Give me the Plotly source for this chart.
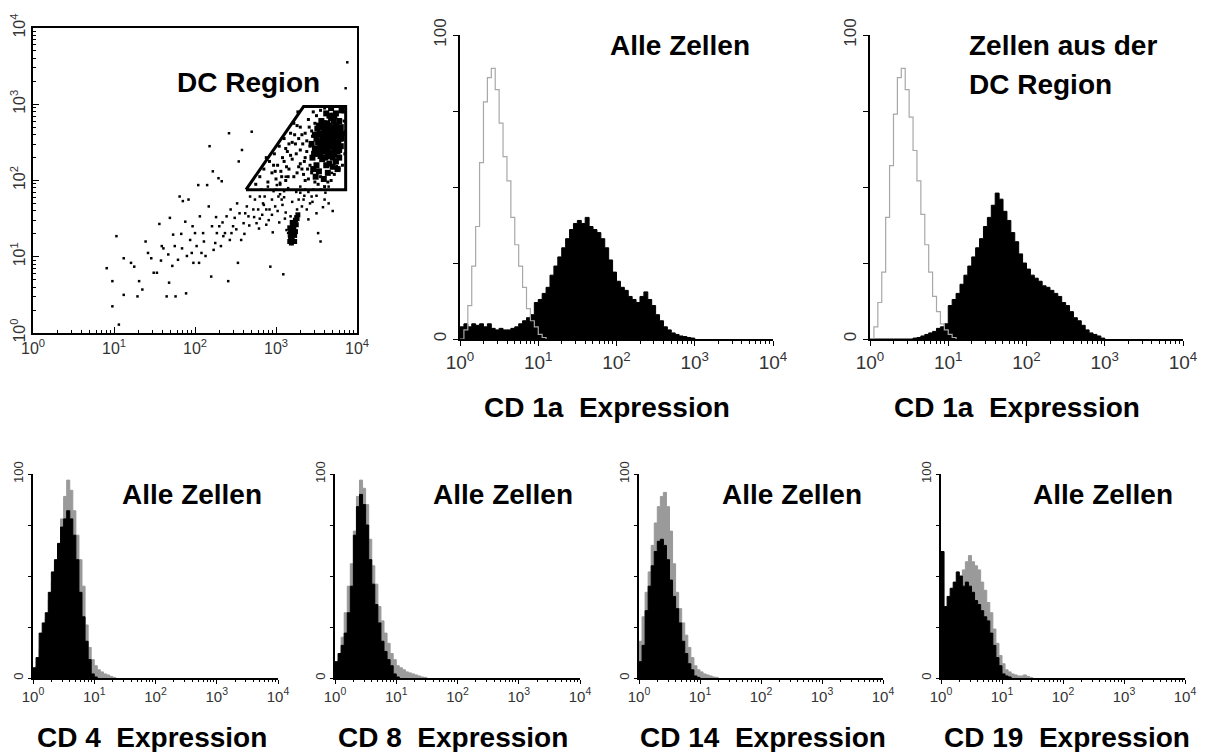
import numpy as np
import plotly.graph_objects as go

FONT = "Liberation Sans, Arial, sans-serif"
W, H = 1215, 752

# ---------------- scatter data (log10 of fluorescence) ----------------
sparse_pts = [(0.91,0.85),(0.98,0.68),(0.98,0.35),(1.06,0.11),(1.03,1.27),(1.12,0.98),(1.12,0.50),(1.21,0.92),
    (1.25,0.87),(1.29,0.48),(1.31,0.68),(1.35,0.57),(1.39,1.20),(1.42,1.05),(1.46,0.98),(1.49,0.79),(1.53,0.79),
    (1.56,1.43),(1.59,1.14),(1.61,1.11),(1.65,0.48),(1.67,1.03),(1.68,0.66),(1.69,1.51),(1.73,1.29),(1.75,1.14),
    (1.76,0.48),(1.79,0.96),(1.81,1.79),(1.84,1.11),(1.85,1.73),(1.88,1.46),(1.89,0.52),(1.90,1.01),(1.92,1.75),
    (1.94,1.22),(1.96,1.05),(1.98,0.92),(2.00,1.31),(2.02,1.14),(2.04,1.94),(2.05,0.92),(2.06,1.53),(2.08,1.05),
    (2.10,1.31),(2.13,1.01),(2.15,1.94),(2.17,1.66),(2.18,2.45),(2.20,0.74),(2.21,1.40),(2.22,2.12),(2.23,1.09),
    (2.25,1.18),(2.27,1.31),(2.29,2.03),(2.30,1.40),(2.32,1.14),(2.33,1.99),(2.35,1.27),(2.37,1.31),(2.39,1.53),
    (2.41,0.68),(2.42,2.62),(2.43,1.22),(2.45,1.31),(2.47,1.40),(2.49,1.51),(2.51,1.36),(2.53,0.92),(2.54,2.25),
    (2.55,1.57),(2.57,1.22),(2.58,2.40),(2.60,1.44),(2.62,1.57),(2.64,1.66),(2.66,1.53),(2.68,1.79),(2.70,2.64),
    (2.72,1.62),(2.74,1.75),(2.76,1.44),(2.78,1.62),(2.80,1.79),(2.82,1.88),(2.84,1.70),(2.86,1.79),(2.88,1.62),
    (2.90,1.92),(2.92,1.62),(2.93,0.87),(2.95,1.75),(2.97,1.86),(2.99,1.66),(3.01,1.94),(3.03,1.79),(3.05,1.97),
    (3.07,1.75),(3.09,0.77),(3.10,1.86),(3.12,2.05),(3.13,1.35),(3.15,1.31),(3.16,1.27),(3.18,1.53),(3.19,1.40),
    (3.20,1.25),(3.22,1.31),(3.23,1.44),(3.24,1.53),(3.26,1.62),(3.28,1.75),(3.30,1.84),(3.32,1.66),(3.34,1.75),
    (3.36,1.88),(3.38,1.62),(3.40,1.49),(3.42,1.70),(3.44,1.79),(3.46,1.88),(3.50,1.57),(3.52,1.31),(3.55,1.20),
    (3.61,1.84),(3.65,1.92),(3.69,2.10),(3.75,2.19),(3.79,2.32),(3.88,3.55),(3.86,3.21),
    (1.58,0.95),(1.72,0.88),(1.83,1.30),(1.97,1.40),(2.11,1.20),(2.26,1.52),(2.34,1.45),(2.44,1.62),(2.52,1.70),
    (2.61,1.30),(2.67,1.41),(2.73,1.52),(2.79,1.37),(2.83,1.55),(2.91,1.48),(2.96,1.32),(3.04,1.45),(3.11,1.50)]
lower_blob_pts = [(3.17,1.20),(3.18,1.25),(3.19,1.30),(3.20,1.35),(3.21,1.40),(3.22,1.45),(3.23,1.28),(3.24,1.33),
    (3.20,1.22),(3.19,1.18),(3.21,1.30),(3.22,1.38),(3.25,1.42),(3.26,1.50),(3.18,1.32),(3.23,1.20),(3.24,1.48),
    (3.27,1.55),(3.20,1.45),(3.17,1.38)]
gate_core_pts = [(3.45,2.30),(3.48,2.42),(3.50,2.55),(3.52,2.35),(3.54,2.62),(3.55,2.48),(3.57,2.28),(3.58,2.70),
    (3.60,2.40),(3.61,2.58),(3.62,2.20),(3.63,2.75),(3.64,2.50),(3.65,2.35),(3.66,2.65),(3.67,2.45),(3.68,2.82),
    (3.69,2.55),(3.70,2.30),(3.71,2.70),(3.72,2.42),(3.73,2.60),(3.74,2.88),(3.75,2.50),(3.76,2.38),(3.77,2.68),
    (3.78,2.78),(3.79,2.55),(3.80,2.45),(3.81,2.92),(3.82,2.62),(3.46,2.15),(3.49,2.05),(3.51,2.68),(3.53,2.12),
    (3.56,2.78),(3.59,2.02),(3.62,2.88),(3.64,2.10),(3.66,2.22),(3.68,2.95),(3.70,2.18),(3.72,2.85),(3.74,2.25),
    (3.76,2.15),(3.78,2.40),(3.80,2.70),(3.57,2.52),(3.60,2.65),(3.63,2.40),(3.67,2.58),(3.71,2.48),(3.75,2.62),
    (3.58,2.38),(3.65,2.72),(3.69,2.36),(3.73,2.52),(3.77,2.58),(3.54,2.42),(3.61,2.30),(3.66,2.52),(3.70,2.62),
    (3.74,2.72),(3.52,2.50),(3.56,2.60),(3.60,2.48),(3.64,2.62),(3.68,2.46),(3.72,2.34),(3.76,2.50),(3.79,2.65),
    (3.48,2.60),(3.50,2.20),(3.55,2.32),(3.59,2.75),(3.63,2.55),(3.67,2.32),(3.71,2.78),(3.75,2.42),(3.78,2.30),
    (3.44,2.48),(3.47,2.35),(3.53,2.72),(3.62,2.45),(3.66,2.85),(3.70,2.52),(3.73,2.42),(3.77,2.48),(3.81,2.55),
    (3.58,2.58),(3.65,2.44),(3.69,2.68),(3.62,2.68),(3.57,2.44),(3.72,2.58),(3.64,2.34)]
gate_mid_pts = [(2.75,1.95),(2.80,2.05),(2.85,2.15),(2.90,1.98),(2.92,2.25),(2.95,2.10),(2.98,2.35),(3.00,2.02),
    (3.02,2.20),(3.04,2.45),(3.06,2.12),(3.08,2.30),(3.10,2.55),(3.12,2.00),(3.14,2.38),(3.16,2.15),(3.18,2.62),
    (3.20,2.28),(3.22,2.05),(3.24,2.48),(3.26,2.72),(3.28,2.18),(3.30,2.40),(3.32,2.60),(3.34,2.08),(3.36,2.30),
    (3.38,2.52),(3.40,2.80),(3.42,2.20),(3.44,2.65),(3.46,2.90),(3.40,2.02),(3.35,2.25),(3.30,2.70),(3.25,2.35),
    (3.20,2.50),(3.15,2.05),(3.10,2.25),(3.05,1.95),(2.97,2.20),(2.88,2.30),(3.38,2.38),(3.42,2.45),(3.36,2.62),
    (3.32,2.15),(3.28,2.55),(3.44,2.10),(3.48,2.75),(3.50,2.85),(3.52,1.95),(3.55,2.05),(3.60,1.92),(3.64,1.98),
    (3.68,2.00),(3.72,2.08),(3.78,2.15),(3.82,2.20),(3.84,2.78),(3.85,2.35),(3.83,2.90),(3.55,2.92),(3.60,2.95),
    (3.27,2.90),(3.22,2.75),(3.12,2.42),(3.18,2.33),(3.26,2.10),(3.33,2.48),(3.39,2.15),(3.45,2.58),(3.41,2.70),
    (3.36,2.00),(3.48,1.98),(3.30,2.22),(3.23,2.60),(3.16,2.48),(3.07,2.05),(2.99,2.12),(3.13,2.18)]
band_pts = [(3.00,1.88),(3.05,1.82),(3.10,1.78),(3.15,1.90),(3.20,1.72),(3.25,1.85),(3.30,1.92),(3.35,1.80),
    (3.40,1.85),(3.45,1.72),(3.50,1.80),(3.55,1.88),(3.60,1.75),(3.65,1.70),(3.70,1.60),(3.58,1.65),(2.95,1.55),
    (3.02,1.60),(3.08,1.68),(3.12,1.58),(2.85,1.68),(2.80,1.50),(2.88,1.42)]

gate_x_log = [2.63, 3.34, 3.86, 3.86, 2.63]
gate_y_log = [1.88, 2.97, 2.97, 1.88, 1.88]

# ---------------- histogram data (% of max), channels in log10 units ----------------
channels = [round(0.05 * i, 2) for i in range(61)]

cd1a_all_ctrl = [0, 3, 11, 24, 37, 58, 78, 86, 89, 82, 71, 60, 52, 40, 31, 24, 17, 10, 6, 4, 1.5, 0.5, 0]
cd1a_all_stain = [4, 5, 4, 5, 4.5, 5, 4, 5, 3.5, 3, 3.5, 3, 3, 3.5, 4, 5, 6, 7, 8, 12, 13, 15, 17, 21, 24, 27, 30,
                  33, 36, 38, 39, 38, 40, 37, 36, 35, 33, 30, 26, 22, 19, 17, 16, 14, 13, 12, 14, 15.5, 13, 11, 8,
                  6, 4, 3, 2, 1.5, 1, 0.8, 0.5, 0.3, 0]
cd1a_dc_ctrl = [0, 4, 12, 22, 40, 57, 74, 86, 89, 82, 73, 62, 52, 41, 31, 22, 14, 9, 5, 3, 1.5, 0.5, 0]
cd1a_dc_stain = [0, 0, 0, 0, 0, 0, 0, 0, 0, 0, 0, 0.3, 0.5, 1, 1.5, 2, 2.5, 3.5, 4, 5, 11, 13, 15, 18, 21, 24, 27,
                 30, 33, 37, 40, 44, 48, 46, 42, 39, 35, 32, 28, 25, 23, 21, 20, 19, 17.5, 17, 16, 15, 14, 12, 11,
                 9, 7, 6, 4.5, 3, 2, 1.5, 1, 0.3, 0]

cd4_ctrl = [1, 6, 14, 22, 29, 38, 47, 55, 65, 78, 89, 97, 92, 82, 70, 58, 45, 26, 15, 9, 6, 4, 3, 2, 1.5, 0.8, 0.3, 0]
cd4_stain = [5, 10, 22, 27, 32, 42, 52, 58, 66, 74, 78, 82, 78, 70, 58, 42, 30, 18, 9, 2, 0.5, 0]
cd8_ctrl = [2, 9, 20, 32, 45, 56, 72, 89, 97, 93, 85, 68, 55, 46, 35, 28, 22, 17, 12, 9, 6, 5, 4, 3, 2.5, 2, 1.5,
            1, 0.5, 0.3, 0]
cd8_stain = [8, 12, 16, 22, 32, 45, 70, 84, 90, 85, 75, 58, 46, 36, 27, 18, 13, 9, 6, 2, 0.5, 0]
cd14_ctrl = [18, 30, 42, 52, 65, 76, 84, 89, 91, 84, 72, 56, 42, 34, 27, 21, 15, 10, 6, 4, 3, 2, 1.5, 1, 0.5, 0.3, 0]
cd14_stain = [8, 16, 33, 45, 55, 62, 67, 68, 65, 58, 48, 40, 34, 27, 18, 12, 7, 4, 1, 0.3, 0]
cd19_ctrl = [5, 12, 22, 27, 33, 40, 47, 53, 57, 60, 57, 55, 53, 47, 43, 37, 32, 24, 17, 11, 7, 4, 3, 2, 1.5, 1, 1,
             1.5, 0.8, 0.3, 0]
cd19_stain = [62, 35, 40, 44, 47, 52, 50, 45, 47, 45, 42, 38, 36, 33, 30, 28, 22, 16, 10, 6, 2, 1, 0.5, 0]

decade_vals = [1, 10, 100, 1000, 10000]
decade_text = ["10<sup>0</sup>", "10<sup>1</sup>", "10<sup>2</sup>", "10<sup>3</sup>", "10<sup>4</sup>"]
minor_vals = [m * 10 ** k for k in range(4) for m in range(2, 10)]
pct_vals = [0, 25, 50, 75, 100]
pct_text = ["0", "", "", "", "100"]

fig = go.Figure()


def unzip(pts):
    return [10 ** p[0] for p in pts], [10 ** p[1] for p in pts]


for pts, size in ((sparse_pts, 2.5), (band_pts, 2.5), (gate_mid_pts, 3), (lower_blob_pts, 5), (gate_core_pts, 6)):
    xs, ys = unzip(pts)
    fig.add_trace(go.Scatter(x=xs, y=ys, mode="markers", xaxis="x", yaxis="y", showlegend=False,
                             marker=dict(size=size, color="black", symbol="square", line=dict(width=0))))

fig.add_trace(go.Scatter(x=[10 ** v for v in gate_x_log], y=[10 ** v for v in gate_y_log], mode="lines",
                         xaxis="x", yaxis="y", showlegend=False, line=dict(color="black", width=3)))


def hist(vals, n, kind, bottom=False):
    xs = [10 ** c for c in channels[:len(vals)]]
    ax = str(n)
    if kind == "stain":
        return go.Scatter(x=xs, y=vals, mode="lines", line_shape="hv", fill="tozeroy", fillcolor="black",
                          line=dict(color="black", width=1), xaxis="x" + ax, yaxis="y" + ax, showlegend=False)
    if bottom:
        return go.Scatter(x=xs, y=vals, mode="lines", line_shape="hv", fill="tozeroy", fillcolor="#9a9a9a",
                          line=dict(color="#9a9a9a", width=1), xaxis="x" + ax, yaxis="y" + ax, showlegend=False)
    return go.Scatter(x=xs, y=vals, mode="lines", line_shape="hv",
                      line=dict(color="#a8a8a8", width=1.2), xaxis="x" + ax, yaxis="y" + ax, showlegend=False)


fig.add_trace(hist(cd1a_all_stain, 2, "stain"))
fig.add_trace(hist(cd1a_all_ctrl, 2, "ctrl"))
fig.add_trace(hist(cd1a_dc_stain, 3, "stain"))
fig.add_trace(hist(cd1a_dc_ctrl, 3, "ctrl"))
for n, c, s in ((4, cd4_ctrl, cd4_stain), (5, cd8_ctrl, cd8_stain), (6, cd14_ctrl, cd14_stain),
                (7, cd19_ctrl, cd19_stain)):
    fig.add_trace(hist(c, n, "ctrl", bottom=True))
    fig.add_trace(hist(s, n, "stain"))


def px_dom(a, b):
    return [a / W, b / W]


def py_dom(top, bot):
    return [1 - bot / H, 1 - top / H]


tick_font_big = dict(family=FONT, size=19, color="#333")
tick_font_mid = dict(family=FONT, size=16, color="#333")
tick_font_small = dict(family=FONT, size=15, color="#333")

layout = dict(
    width=W, height=H, margin=dict(l=0, r=0, t=0, b=0, autoexpand=False), paper_bgcolor="white",
    plot_bgcolor="white", showlegend=False,
)

# scatter axes
layout["xaxis"] = dict(domain=px_dom(33, 357), type="log", range=[0, 4], anchor="y", automargin=False,
                       showline=True, linecolor="black", linewidth=1.5, mirror=True, showgrid=False, zeroline=False,
                       tickmode="array", tickvals=decade_vals, ticktext=decade_text, ticks="inside", ticklen=6,
                       tickcolor="black", tickfont=tick_font_mid,
                       minor=dict(tickmode="array", tickvals=minor_vals, ticks="inside", ticklen=3,
                                  tickcolor="black", showgrid=False))
layout["yaxis"] = dict(domain=py_dom(28, 333), type="log", range=[0, 4], anchor="x", automargin=False,
                       showline=True, linecolor="black", linewidth=1.5, mirror=True, showgrid=False, zeroline=False,
                       tickmode="array", tickvals=decade_vals, ticktext=decade_text, ticks="inside", ticklen=6,
                       tickcolor="black", tickfont=tick_font_mid, tickangle=-90,
                       minor=dict(tickmode="array", tickvals=minor_vals, ticks="inside", ticklen=3,
                                  tickcolor="black", showgrid=False))


def hist_axes(n, xa, xb, top, bot, big):
    ax = str(n)
    tf = tick_font_big if big else tick_font_small
    layout["xaxis" + ax] = dict(domain=px_dom(xa, xb), type="log", range=[0, 4], anchor="y" + ax,
                                automargin=False,
                                showline=True, linecolor="black", linewidth=1.5, showgrid=False, zeroline=False,
                                tickmode="array", tickvals=decade_vals, ticktext=decade_text, ticks="outside",
                                ticklen=5 if big else 4, tickcolor="black", tickfont=tf,
                                minor=dict(tickmode="array", tickvals=minor_vals, ticks="outside",
                                           ticklen=3 if big else 2, tickcolor="black", showgrid=False))
    layout["yaxis" + ax] = dict(domain=py_dom(top, bot), range=[0, 100], anchor="x" + ax, automargin=False,
                                showline=True, linecolor="black", linewidth=1.5, showgrid=False, zeroline=False,
                                tickmode="array", tickvals=pct_vals, ticktext=pct_text, ticks="outside",
                                ticklen=5 if big else 3, tickcolor="black",
                                tickfont=dict(family=FONT, size=17 if big else 13, color="#333"), tickangle=-90)


hist_axes(2, 460, 773, 35, 339, True)
hist_axes(3, 870, 1183, 35, 339, True)
hist_axes(4, 33, 278, 474, 678, False)
hist_axes(5, 335, 580, 474, 678, False)
hist_axes(6, 639, 883, 474, 678, False)
hist_axes(7, 941, 1185, 474, 678, False)

fig.update_layout(**layout)


def label(text, px, py, anchor="center", size=28):
    fig.add_annotation(x=px / W, y=1 - py / H, xref="paper", yref="paper", text="<b>" + text + "</b>",
                       showarrow=False, xanchor=anchor, yanchor="middle",
                       font=dict(family=FONT, size=size, color="black"))


label("DC Region", 248, 82)
label("Alle Zellen", 680, 45)
label("Zellen aus der", 967, 45, anchor="left")
label("DC Region", 967, 85, anchor="left")
label("CD 1a&nbsp;&nbsp;Expression", 607, 407)
label("CD 1a&nbsp;&nbsp;Expression", 1017, 407)
label("Alle Zellen", 192, 494)
label("Alle Zellen", 503, 494)
label("Alle Zellen", 792, 494)
label("Alle Zellen", 1103, 494)
label("CD 4&nbsp;&nbsp;Expression", 152, 737)
label("CD 8&nbsp;&nbsp;Expression", 453, 737)
label("CD 14&nbsp;&nbsp;Expression", 763, 737)
label("CD 19&nbsp;&nbsp;Expression", 1067, 737)

fig.write_html("out.html")
